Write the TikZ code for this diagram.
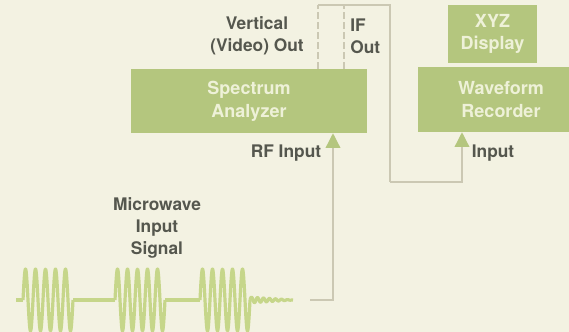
\documentclass[tikz,border=0pt]{standalone}
\usepackage{fontspec}
\setmainfont{TeX Gyre Heros}
\usepackage{xcolor}
\definecolor{cPaper}{HTML}{F3F2E2}
\definecolor{cBox}{HTML}{B4C67E}
\definecolor{cWave}{HTML}{C6D68A}
\definecolor{cLine}{HTML}{CBC8B3}
\definecolor{cText}{HTML}{55574E}
\definecolor{cBoxText}{HTML}{EEF1D8}
\usetikzlibrary{positioning,arrows.meta}
\tikzset{
  unit-box/.style={fill=cBox,inner sep=0pt,align=center,text=cBoxText,
    font=\fontsize{13.5}{17}\selectfont\bfseries},
  label-text/.style={text=cText,inner sep=0pt,
    font=\fontsize{13}{16.5}\selectfont\bfseries},
  link/.style={draw=cLine,line width=1pt},
  link-alt/.style={link,dash pattern=on 5pt off 2.5pt},
  link-in/.style={link,-{Triangle[length=11pt,width=11pt,color=cBox]}},
  wave/.style={draw=cWave,line width=2.4pt,line join=round},
}

\begin{document}
\begin{tikzpicture}[x=0.75pt,y=-0.75pt]
  \fill[cPaper] (0,0) rectangle (569,332);
  \useasboundingbox (0,0) rectangle (569,332);
  % units
  \node[unit-box,minimum width=177pt,minimum height=48pt] (sa) at (249,101)
    {Spectrum\\Analyzer};
  \node[unit-box,minimum width=124.5pt,minimum height=48.75pt] (wr) at (501,99.5)
    {Waveform\\Recorder};
  \node[unit-box,minimum width=66.75pt,minimum height=43.5pt] (xyz) at (492.5,34)
    {XYZ\\Display};
  % labels
  \node[label-text,align=center] (vo) at (257,36) {Vertical\\(Video) Out};
  \node[label-text,align=left,anchor=west] (ifo) at (350,36) {IF\\Out};
  \node[label-text] (rfin) at (286,153) {RF Input};
  \node[label-text] (wrin) at (493,153) {Input};
  \node[label-text,align=center] (mw) at (157,228) {Microwave\\Input\\Signal};
  % microwave bursts
  \foreach \s in {23,115,200}
    \draw[wave] plot[domain=0:50,samples=160,variable=\t] ({\s+\t},{300-31*sin(36*\t)});
  \draw[wave] (16,300) -- (23,300);
  \draw[wave] (73,300) -- (115,300);
  \draw[wave] (165,300) -- (200,300);
  \draw[wave] plot[domain=0:43,samples=90,variable=\t] ({250+\t},{300-3*sin(60*\t)*(43-\t)/43});
  % connections
  \coordinate (sigend) at (310,300);
  \coordinate (rf) at (333,300);
  \coordinate (vtop) at (318,5);
  \coordinate (iftop) at (344,5);
  \coordinate (turn) at (390,5);
  \coordinate (low) at (390,182);
  \coordinate (recin) at (462,182);
  \draw[link-in] (sigend) -- (rf) -- (rf |- sa.south);
  \draw[link-alt] (sa.north -| vtop) -- (vtop);
  \draw[link-alt] (sa.north -| iftop) -- (iftop);
  \draw[link] (vtop) -- (turn) -- (low);
  \draw[link-in] (low) -- (recin) -- (recin |- wr.south);
\end{tikzpicture}
\end{document}
